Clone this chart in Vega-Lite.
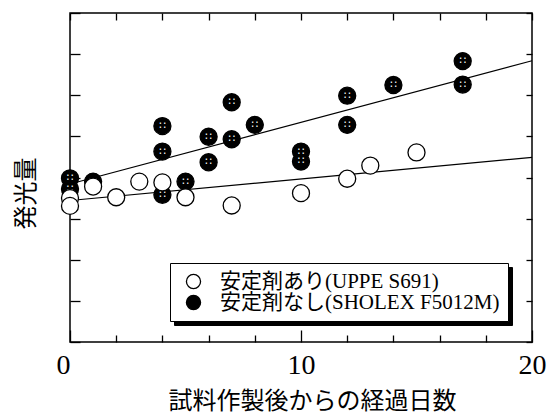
{
  "$schema": "https://vega.github.io/schema/vega-lite/v6.json",
  "width": 462,
  "height": 329,
  "autosize": {"type": "none"},
  "padding": {"left": 70, "top": 13, "right": 15, "bottom": 75},
  "config": {
    "view": {"stroke": "black", "strokeWidth": 1.5},
    "axis": {"tickColor": "black", "tickWidth": 1.3, "domain": false, "grid": false}
  },
  "datasets": {
    "pts": [
      {"d": 0, "v": 3.98, "series": "安定剤なし(SHOLEX F5012M)", "s2": "安定剤なし(SHOLEX F5012M)"},
      {"d": 0, "v": 3.72, "series": "安定剤なし(SHOLEX F5012M)", "s2": "安定剤なし(SHOLEX F5012M)"},
      {"d": 1, "v": 3.9, "series": "安定剤なし(SHOLEX F5012M)", "s2": "安定剤なし(SHOLEX F5012M)"},
      {"d": 4, "v": 5.25, "series": "安定剤なし(SHOLEX F5012M)", "s2": "安定剤なし(SHOLEX F5012M)"},
      {"d": 4, "v": 4.63, "series": "安定剤なし(SHOLEX F5012M)", "s2": "安定剤なし(SHOLEX F5012M)"},
      {"d": 4, "v": 3.58, "series": "安定剤なし(SHOLEX F5012M)", "s2": "安定剤なし(SHOLEX F5012M)"},
      {"d": 5, "v": 3.9, "series": "安定剤なし(SHOLEX F5012M)", "s2": "安定剤なし(SHOLEX F5012M)"},
      {"d": 6, "v": 4.99, "series": "安定剤なし(SHOLEX F5012M)", "s2": "安定剤なし(SHOLEX F5012M)"},
      {"d": 6, "v": 4.37, "series": "安定剤なし(SHOLEX F5012M)", "s2": "安定剤なし(SHOLEX F5012M)"},
      {"d": 7, "v": 5.83, "series": "安定剤なし(SHOLEX F5012M)", "s2": "安定剤なし(SHOLEX F5012M)"},
      {"d": 7, "v": 4.93, "series": "安定剤なし(SHOLEX F5012M)", "s2": "安定剤なし(SHOLEX F5012M)"},
      {"d": 8, "v": 5.28, "series": "安定剤なし(SHOLEX F5012M)", "s2": "安定剤なし(SHOLEX F5012M)"},
      {"d": 10, "v": 4.63, "series": "安定剤なし(SHOLEX F5012M)", "s2": "安定剤なし(SHOLEX F5012M)"},
      {"d": 10, "v": 4.39, "series": "安定剤なし(SHOLEX F5012M)", "s2": "安定剤なし(SHOLEX F5012M)"},
      {"d": 12, "v": 5.99, "series": "安定剤なし(SHOLEX F5012M)", "s2": "安定剤なし(SHOLEX F5012M)"},
      {"d": 12, "v": 5.28, "series": "安定剤なし(SHOLEX F5012M)", "s2": "安定剤なし(SHOLEX F5012M)"},
      {"d": 14, "v": 6.25, "series": "安定剤なし(SHOLEX F5012M)", "s2": "安定剤なし(SHOLEX F5012M)"},
      {"d": 17, "v": 6.83, "series": "安定剤なし(SHOLEX F5012M)", "s2": "安定剤なし(SHOLEX F5012M)"},
      {"d": 17, "v": 6.26, "series": "安定剤なし(SHOLEX F5012M)", "s2": "安定剤なし(SHOLEX F5012M)"},
      {"d": 0, "v": 3.5, "series": "安定剤あり(UPPE S691)", "s2": "安定剤あり(UPPE S691)"},
      {"d": 0, "v": 3.31, "series": "安定剤あり(UPPE S691)", "s2": "安定剤あり(UPPE S691)"},
      {"d": 1, "v": 3.78, "series": "安定剤あり(UPPE S691)", "s2": "安定剤あり(UPPE S691)"},
      {"d": 2, "v": 3.52, "series": "安定剤あり(UPPE S691)", "s2": "安定剤あり(UPPE S691)"},
      {"d": 3, "v": 3.9, "series": "安定剤あり(UPPE S691)", "s2": "安定剤あり(UPPE S691)"},
      {"d": 4, "v": 3.88, "series": "安定剤あり(UPPE S691)", "s2": "安定剤あり(UPPE S691)"},
      {"d": 5, "v": 3.52, "series": "安定剤あり(UPPE S691)", "s2": "安定剤あり(UPPE S691)"},
      {"d": 7, "v": 3.32, "series": "安定剤あり(UPPE S691)", "s2": "安定剤あり(UPPE S691)"},
      {"d": 10, "v": 3.62, "series": "安定剤あり(UPPE S691)", "s2": "安定剤あり(UPPE S691)"},
      {"d": 12, "v": 3.97, "series": "安定剤あり(UPPE S691)", "s2": "安定剤あり(UPPE S691)"},
      {"d": 13, "v": 4.29, "series": "安定剤あり(UPPE S691)", "s2": "安定剤あり(UPPE S691)"},
      {"d": 15, "v": 4.61, "series": "安定剤あり(UPPE S691)", "s2": "安定剤あり(UPPE S691)"}
    ],
    "fit": [
      {"d": 0, "v": 3.84, "g": "なし"},
      {"d": 20, "v": 6.84, "g": "なし"},
      {"d": 0, "v": 3.44, "g": "あり"},
      {"d": 20, "v": 4.49, "g": "あり"}
    ]
  },
  "resolve": {"axis": {"x": "independent", "y": "independent"}},
  "layer": [
    {
      "data": {"name": "fit"},
      "mark": {"type": "line", "color": "black", "strokeWidth": 1.1},
      "encoding": {
        "x": {
          "field": "d", "type": "quantitative",
          "scale": {"domain": [0, 20], "nice": false, "zero": false},
          "axis": {
            "orient": "bottom",
            "values": [0, 2, 4, 6, 8, 10, 12, 14, 16, 18, 20],
            "tickSize": {"condition": {"test": "datum.value % 10 === 0", "value": -12}, "value": -7},
            "labelExpr": "datum.value % 10 === 0 ? datum.label : ''",
            "labelFont": "Liberation Serif",
            "labelFontSize": 28,
            "labelColor": "black",
            "labelPadding": 21,
            "labelOffset": {"condition": {"test": "datum.value === 0", "value": -7}, "value": 0},
            "labelFlush": false,
            "labelOverlap": false,
            "title": "試料作製後からの経過日数",
            "titleFont": "Noto Sans CJK JP",
            "titleFontSize": 24,
            "titleFontWeight": "normal",
            "titleColor": "black",
            "titleX": 242,
            "titleY": 59,
            "titleBaseline": "middle",
            "titleAlign": "center"
          }
        },
        "y": {
          "field": "v", "type": "quantitative",
          "scale": {"domain": [0, 8], "nice": false, "zero": false},
          "axis": {
            "orient": "left",
            "values": [0, 1, 2, 3, 4, 5, 6, 7, 8],
            "tickSize": -10,
            "labels": false,
            "title": "発光量",
            "titleFont": "Noto Sans CJK JP",
            "titleFontSize": 24,
            "titleFontWeight": "normal",
            "titleColor": "black",
            "titleX": -44,
            "titleY": 180,
            "titleAngle": 270,
            "titleBaseline": "middle",
            "titleAlign": "center"
          }
        },
        "detail": {"field": "g"}
      }
    },
    {
      "data": {"name": "pts"},
      "transform": [{"filter": "datum.series === '安定剤なし(SHOLEX F5012M)'"}],
      "mark": {"type": "point", "shape": "circle", "filled": true, "size": 290, "stroke": "black", "strokeWidth": 1.3, "opacity": 1},
      "encoding": {
        "x": {
          "field": "d", "type": "quantitative",
          "axis": {"orient": "top", "values": [0, 2, 4, 6, 8, 10, 12, 14, 16, 18, 20], "tickSize": -7, "labels": false, "title": null}
        },
        "y": {
          "field": "v", "type": "quantitative",
          "axis": {"orient": "right", "values": [0, 1, 2, 3, 4, 5, 6, 7, 8], "tickSize": -6, "labels": false, "title": null}
        },
        "fill": {
          "field": "series", "type": "nominal",
          "scale": {"domain": ["安定剤あり(UPPE S691)", "安定剤なし(SHOLEX F5012M)"], "range": ["white", "black"]},
          "legend": {
            "title": null,
            "orient": "none",
            "legendX": 100,
            "legendY": 250,
            "symbolType": "circle",
            "symbolSize": 200,
            "symbolStrokeColor": "black",
            "symbolStrokeWidth": 1.3,
            "labelFont": "Liberation Serif, Noto Sans CJK JP",
            "labelFontSize": 21,
            "labelColor": "black",
            "labelOffset": 16,
            "labelLimit": 400,
            "padding": 8,
            "symbolOffset": 5,
            "rowPadding": -4,
            "strokeColor": "black",
            "fillColor": "white",
            "encode": {
              "symbols": {"update": {"stroke": {"value": "black"}, "strokeWidth": {"value": 1.3}, "opacity": {"value": 1}}},
              "legend": {"update": {"strokeWidth": {"value": 1.5}}}
            }
          }
        },
        "shape": {
          "field": "s2", "type": "nominal",
          "scale": {"domain": ["安定剤なし(SHOLEX F5012M)", "安定剤あり(UPPE S691)"], "range": ["circle", "circle"]},
          "legend": {
            "title": null,
            "orient": "none",
            "legendX": 104,
            "legendY": 254,
            "symbolType": "circle",
            "symbolSize": 200,
            "symbolFillColor": "black",
            "symbolStrokeColor": "black",
            "labelFont": "Liberation Serif, Noto Sans CJK JP",
            "labelFontSize": 21,
            "labelColor": "black",
            "labelOffset": 16,
            "labelLimit": 400,
            "padding": 8,
            "symbolOffset": 5,
            "rowPadding": -4,
            "strokeColor": "black",
            "fillColor": "black"
          }
        }
      }
    },
    {
      "data": {"name": "pts"},
      "transform": [{"filter": "datum.series === '安定剤なし(SHOLEX F5012M)'"}],
      "mark": {"type": "text", "text": "∷", "color": "white", "fontSize": 11, "baseline": "middle", "align": "center", "font": "DejaVu Sans"},
      "encoding": {
        "x": {"field": "d", "type": "quantitative", "axis": null},
        "y": {"field": "v", "type": "quantitative", "axis": null}
      }
    },
    {
      "data": {"name": "pts"},
      "transform": [{"filter": "datum.series === '安定剤あり(UPPE S691)'"}],
      "mark": {"type": "point", "shape": "circle", "filled": true, "size": 290, "stroke": "black", "strokeWidth": 1.3, "opacity": 1},
      "encoding": {
        "x": {"field": "d", "type": "quantitative", "axis": null},
        "y": {"field": "v", "type": "quantitative", "axis": null},
        "fill": {"field": "series", "type": "nominal"},
        "shape": {"field": "s2", "type": "nominal"}
      }
    }
  ]
}
